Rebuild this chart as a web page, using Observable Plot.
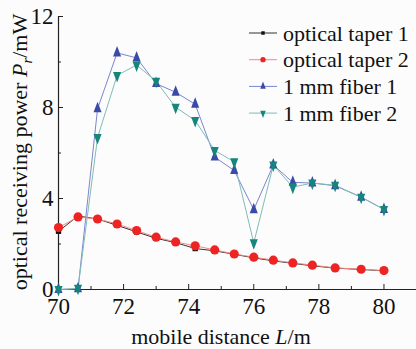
<!DOCTYPE html>
<html><head><meta charset="utf-8">
<script src="https://cdn.jsdelivr.net/npm/d3@7"></script>
<script src="https://cdn.jsdelivr.net/npm/@observablehq/plot@0.6"></script>
<style>
html,body{margin:0;padding:0;background:#fcfcfc;}
svg{display:block;}
</style>
</head><body>
<div id="chart"></div>
<script>
const distance = [70, 70.6, 71.2, 71.8, 72.4, 73, 73.6, 74.2, 74.8, 75.4, 76, 76.6, 77.2, 77.8, 78.5, 79.3, 80];
const taper1 = [2.56, 3.23, 3.10, 2.82, 2.53, 2.25, 2.06, 1.80, 1.70, 1.55, 1.39, 1.26, 1.15, 1.04, 0.94, 0.88, 0.82];
const taper2 = [2.72, 3.19, 3.10, 2.88, 2.59, 2.30, 2.09, 1.92, 1.74, 1.56, 1.42, 1.29, 1.17, 1.07, 0.95, 0.89, 0.83];
const fiber1 = [0, 0.03, 7.94, 10.40, 10.18, 9.05, 8.67, 8.14, 5.82, 5.23, 3.51, 5.47, 4.71, 4.68, 4.56, 4.06, 3.52];
const fiber2 = [0, 0.05, 6.68, 9.41, 9.87, 9.15, 8.01, 7.43, 6.11, 5.61, 2.05, 5.47, 4.50, 4.68, 4.58, 4.06, 3.52];
const seriesNames = ["optical taper 1", "optical taper 2", "1 mm fiber 1", "1 mm fiber 2"];
const xMajor = [70, 72, 74, 76, 78, 80];
const xMinor = [71, 73, 75, 77, 79, 81];
const yMajor = [0, 4, 8, 12];
const yMinor = [2, 6, 10];

const seriesValues = [taper1, taper2, fiber1, fiber2];
const lineColors = ["#333333", "#f28a80", "#7b86cc", "#7fbdb6"];
const dotColors = ["#111111", "#ee2424", "#3a4aa8", "#16867c"];
const symbols = ["square", "circle", "triangle", "triangle-down"];

function triangle(up) {
  return {
    draw(context, size) {
      const s = Math.sqrt(size / (Math.sqrt(3) * 0.75));
      const r = s / Math.sqrt(3) * 0.75;
      const k = up ? -1 : 1;
      context.moveTo(0, k * 2 * r);
      context.lineTo(s / 2, -k * r);
      context.lineTo(-s / 2, -k * r);
      context.closePath();
    }
  };
}
const symObj = {square: d3.symbolSquare, circle: d3.symbolCircle, triangle: triangle(true), "triangle-down": triangle(false)};
const dotR = [3.0, 4.6, 5.2, 5.2];

const data = seriesNames.map((name, i) => distance.map((x, j) => ({x, y: seriesValues[i][j], s: name})));

const marks = [];
data.forEach((d, i) => {
  marks.push(Plot.line(d, {x: "x", y: "y", stroke: lineColors[i], strokeWidth: 1}));
});
data.forEach((d, i) => {
  marks.push(Plot.dot(d, {x: "x", y: "y", fill: dotColors[i], stroke: "none", r: dotR[i], symbol: () => symObj[symbols[i]]}));
});

const fontFam = "'Liberation Serif', 'Times New Roman', serif";
const chart = Plot.plot({
  width: 416,
  height: 349,
  marginLeft: 58,
  marginRight: 0,
  marginTop: 16,
  marginBottom: 60,
  style: {fontFamily: fontFam, fontSize: "22px", background: "#fcfcfc", color: "#111"},
  x: {domain: [70, 81]},
  y: {domain: [0, 12]},
  symbol: {type: "identity"},
  marks: [
    Plot.axisX(xMajor, {tickSize: -5, tickPadding: 13, label: null, fontSize: 23, stroke: "#222"}),
    Plot.axisX(xMinor, {tickSize: -3, text: null, label: null, stroke: "#222"}),
    Plot.axisY(yMajor, {tickSize: -5, tickPadding: 10, label: null, fontSize: 23, stroke: "#222"}),
    Plot.axisY(yMinor, {tickSize: -3, text: null, label: null, stroke: "#222"}),
    Plot.ruleY([0], {stroke: "#222", strokeWidth: 1.2}),
    Plot.ruleX([70], {stroke: "#222", strokeWidth: 1.2}),
    ...marks
  ]
});
document.getElementById("chart").appendChild(chart);

const svg = d3.select(chart);
// axis titles
const xl = svg.append("text").attr("x", 221).attr("y", 344).attr("text-anchor", "middle")
  .style("font-family", fontFam).attr("font-size", 22).attr("fill", "#111");
xl.append("tspan").text("mobile distance ");
xl.append("tspan").attr("font-style", "italic").text("L");
xl.append("tspan").text("/m");

const yl = svg.append("text").attr("transform", "translate(27,152) rotate(-90)").attr("text-anchor", "middle")
  .style("font-family", fontFam).attr("font-size", 22).attr("fill", "#111");
yl.append("tspan").text("optical receiving power ");
yl.append("tspan").attr("font-style", "italic").text("P");
yl.append("tspan").attr("font-style", "italic").attr("font-size", 15).attr("dy", 5).text("r");
yl.append("tspan").attr("dy", -5).text("/mW");

// legend
const lg = svg.append("g");
seriesNames.forEach((name, i) => {
  const cy = 33 + i * 26.7;
  lg.append("line").attr("x1", 249).attr("x2", 277).attr("y1", cy).attr("y2", cy)
    .attr("stroke", lineColors[i]).attr("stroke-width", 1);
  const sz = [12, 22, 40, 40][i];
  const path = d3.symbol(symObj[symbols[i]], sz)();
  lg.append("path").attr("d", path).attr("transform", `translate(263,${cy})`).attr("fill", dotColors[i]);
  lg.append("text").attr("x", 283).attr("y", cy).attr("dy", "0.35em").attr("text-anchor", "start")
    .style("font-family", fontFam).attr("font-size", 22).attr("fill", "#111").text(name);
});
</script>
</body></html>
